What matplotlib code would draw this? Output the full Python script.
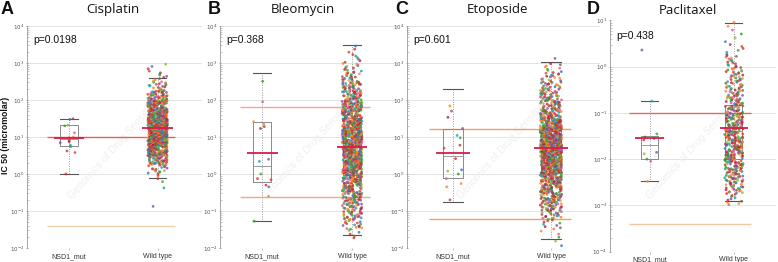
import numpy as np
import matplotlib
matplotlib.use("Agg")
import matplotlib.pyplot as plt
from matplotlib.ticker import LogLocator, FixedLocator, NullFormatter

# ---------------- data ----------------
groups = ["NSD1_mut", "Wild type"]
drugs = ["Cisplatin", "Bleomycin", "Etoposide", "Paclitaxel"]
letters = ["A", "B", "C", "D"]
p_values = ["p=0.0198", "p=0.368", "p=0.601", "p=0.438"]

# individual NSD1-mutant IC50 values (micromolar)
cis_mut = [31, 30, 21, 20, 13, 10, 9.5, 8, 7.5, 7, 6, 5.5, 4.2, 3.8, 1.0]
bleo_mut = [320, 89, 26, 22, 19, 17, 2.5, 2.2, 1.0, 0.75, 0.7, 0.5, 0.45, 0.25, 0.053]
etop_mut = [69, 50, 34, 17, 11, 9.5, 6, 5, 2.6, 1.3, 1.2, 1.0, 0.75, 0.55, 0.45, 0.2]
pacl_mut = [2.3, 0.18, 0.035, 0.03, 0.028, 0.026, 0.014, 0.013, 0.01, 0.009, 0.0033]

# wild-type cloud: counts of cell lines per quarter-decade bin (first bin lower edge, log10)
cis_wt_start = -1.0
cis_wt_counts = [1, 0, 1, 3, 15, 50, 100, 150, 170, 150, 110, 70, 40, 18, 8, 4]
bleo_wt_start = -1.75
bleo_wt_counts = [5, 15, 25, 30, 40, 50, 65, 80, 85, 90, 90, 85, 75, 60, 50, 40, 30, 20, 12, 6, 3]
etop_wt_start = -2.0
etop_wt_counts = [2, 3, 8, 20, 35, 45, 60, 75, 100, 120, 125, 120, 100, 75, 55, 40, 30, 22, 15, 8, 1]
pacl_wt_start = -3.0
pacl_wt_counts = [10, 25, 35, 45, 55, 55, 50, 45, 35, 28, 22, 20, 14, 6, 3, 3]

# box statistics: [whisker low, Q1, median, Q3, whisker high, mean]
cis_mut_box = [1.0, 5.7, 9.0, 21, 31, 9.6]
cis_wt_box = [0.8, 6.8, 15, 39, 394, 18]
bleo_mut_box = [0.053, 0.59, 1.65, 26, 525, 3.7]
bleo_wt_box = [0.023, 0.93, 4.3, 32, 3000, 5.5]
etop_mut_box = [0.18, 0.8, 3.0, 16.6, 203, 3.7]
etop_wt_box = [0.017, 1.05, 4.0, 17, 1090, 4.9]
pacl_mut_box = [0.0033, 0.010, 0.020, 0.032, 0.18, 0.028]
pacl_wt_box = [0.00126, 0.010, 0.040, 0.146, 9.0, 0.046]

# tested concentration range lines [max, min]
cis_conc = [10, 0.04]
bleo_conc = [65, 0.24]
etop_conc = [16.3, 0.062]
pacl_conc = [0.098, 0.0004]

# y-axis decade limits
cis_ylim = [-2, 4]
bleo_ylim = [-2, 4]
etop_ylim = [-2, 4]
pacl_ylim = [-4, 1]

# ---------------- styling ----------------
W, H = 778, 262
fig = plt.figure(figsize=(W / 100, H / 100), dpi=100)

panel_px = [(27, 202, 26, 248), (220, 397, 26, 248), (407, 600, 26, 248), (610, 776, 20.5, 251.5)]
title_x = [113, 303, 497, 688]
letter_x = [1, 208, 395, 587]
palette = ["#d62728", "#2ca02c", "#ff7f0e", "#7e4fa8", "#c0392b", "#3b75b8", "#e05a9a",
           "#8c564b", "#17a5b5", "#e0402a", "#8fb83a", "#f08a4b", "#b01e3c", "#3f9f45"]
upper_col = ["#d9645a", "#f0a88e", "#f0a070", "#e06a60"]
lower_col = ["#efcfb0", "#f0a88e", "#f0a070", "#f0c8a0"]

datasets = [
    (cis_mut, cis_wt_start, cis_wt_counts, cis_mut_box, cis_wt_box, cis_conc, cis_ylim),
    (bleo_mut, bleo_wt_start, bleo_wt_counts, bleo_mut_box, bleo_wt_box, bleo_conc, bleo_ylim),
    (etop_mut, etop_wt_start, etop_wt_counts, etop_mut_box, etop_wt_box, etop_conc, etop_ylim),
    (pacl_mut, pacl_wt_start, pacl_wt_counts, pacl_mut_box, pacl_wt_box, pacl_conc, pacl_ylim),
]


def expand_bins(start, counts):
    vals = []
    for b, n in enumerate(counts):
        lo = start + 0.25 * b
        for k in range(n):
            vals.append(10 ** (lo + 0.25 * (k + 0.5) / n))
    return np.array(vals)


def scatter_offsets(n, seed):
    # deterministic, irregular horizontal spread in [-0.5, 0.5] (layout only)
    k = np.arange(n) + 1.0 + seed
    return (np.sin(k * 12.9898 + 78.233) * 43758.5453) % 1.0 - 0.5


for i, (mut, wst, wcounts, mbox, wbox, conc, ylim) in enumerate(datasets):
    x0, x1, y0, y1 = panel_px[i]
    ax = fig.add_axes([x0 / W, (H - y1) / H, (x1 - x0) / W, (y1 - y0) / H])
    ax.set_yscale("log")
    ax.set_ylim(10.0 ** ylim[0], 10.0 ** ylim[1])
    ax.set_xlim(-0.47, 1.5)

    # grid
    for d in range(ylim[0], ylim[1] + 1):
        ax.axhline(10.0 ** d, color="#e3e3e3", lw=0.7, zorder=0)

    # watermark
    ax.text(0.5, 0.45, "Genomics of Drug Sensitivity", transform=ax.transAxes,
            rotation=48, ha="center", va="center", fontsize=7.5, color="#f0f0f0",
            family="Liberation Sans", zorder=0.5)

    # concentration lines
    ax.hlines(conc[0], -0.25, 1.2, color=upper_col[i], lw=1.0, zorder=1)
    ax.hlines(conc[1], -0.25, 1.2, color=lower_col[i], lw=1.0, zorder=1)

    # boxes
    stats = []
    for b in (mbox, wbox):
        stats.append(dict(whislo=b[0], q1=b[1], med=b[2], q3=b[3], whishi=b[4], fliers=[]))
    ax.bxp(stats, positions=[0, 1], widths=0.2, showfliers=False, patch_artist=False,
           boxprops=dict(color="#8a8a8a", lw=0.7),
           medianprops=dict(color="#9a9a9a", lw=0.7),
           whiskerprops=dict(color="#9a9a9a", lw=0.7, linestyle=(0, (1, 1.5))),
           capprops=dict(color="#555555", lw=0.8), capwidths=0.2,
           manage_ticks=False, zorder=2)
    for k in range(2):
        ax.vlines(k, stats[k]["q1"], stats[k]["q3"], color="#9a9a9a", lw=0.7,
                  linestyle=(0, (1, 1.5)), zorder=2)

    # points
    wt_vals = expand_bins(wst, wcounts)
    for pos, vals, spread in ((0, np.array(mut, dtype=float), 0.2), (1, wt_vals, 0.22)):
        n = len(vals)
        jit = scatter_offsets(n, 7 * i + 3 * pos) * spread
        cols = [palette[(k * 5 + 3 * pos + i) % len(palette)] for k in range(n)]
        ax.scatter(pos + jit, vals, s=4.0, c=cols, alpha=0.8, linewidths=0, zorder=3)

    # means
    ax.hlines(mbox[5], -0.17, 0.17, color="#d81b4a", lw=1.3, zorder=4)
    ax.hlines(wbox[5], 0.83, 1.17, color="#d81b4a", lw=1.3, zorder=4)

    # axes styling
    for s in ("top", "right", "bottom"):
        ax.spines[s].set_visible(False)
    ax.spines["left"].set_color("#999999")
    ax.spines["left"].set_linewidth(0.6)
    decades = list(range(ylim[0], ylim[1] + 1))
    ax.yaxis.set_major_locator(FixedLocator([10.0 ** d for d in decades]))
    ax.set_yticklabels([r"$10^{%d}$" % d for d in decades])
    ax.yaxis.set_minor_locator(LogLocator(base=10, subs=np.arange(2, 10), numticks=20))
    ax.yaxis.set_minor_formatter(NullFormatter())
    ax.tick_params(axis="y", which="major", labelsize=4, labelcolor="#555555",
                   color="#888888", length=2, width=0.5, pad=1.2, direction="inout")
    ax.tick_params(axis="y", which="minor", color="#999999", length=1.5, width=0.4, direction="in")
    ax.set_xticks([0, 1])
    ax.set_xticklabels(groups, fontsize=5, color="#333333", family="Liberation Sans")
    ax.tick_params(axis="x", length=1.5, width=0.4, color="#888888", pad=2)

    ax.text(0.035, 0.935, p_values[i], transform=ax.transAxes, fontsize=7.5,
            family="Liberation Sans", color="#111111", va="center", ha="left")

    # title and letter
    fig.text(title_x[i] / W, 1 - 10 / H, drugs[i], ha="center", va="center",
             fontsize=9.5, family="Open Sans", color="#111111")
    fig.text(letter_x[i] / W, 1 - 9 / H, letters[i], ha="left", va="center",
             fontsize=13, family="Liberation Sans", weight="bold", color="#111111")

fig.text(5.5 / W, 1 - 135 / H, "IC 50 (micromolar)", rotation=90, ha="center", va="center",
         fontsize=6.3, weight="bold", family="Liberation Sans", color="#111111")

fig.savefig("out.png", dpi=100)
